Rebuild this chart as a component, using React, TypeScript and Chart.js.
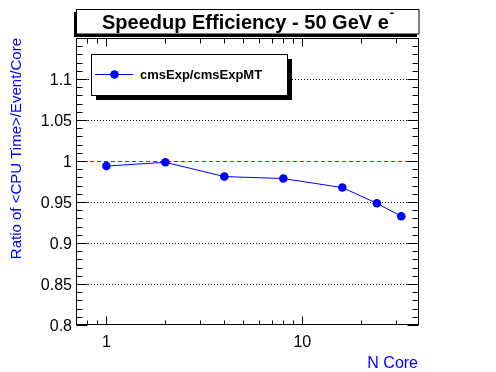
import React, { useEffect, useRef } from "react";
import { Chart, registerables } from "chart.js";

Chart.register(...registerables);

// ---- data ----
const nCores = [1, 2, 4, 8, 16, 24, 32];
const ratio = [0.9938, 0.9984, 0.981, 0.9786, 0.9676, 0.9484, 0.9326];

// ---- axis / tick definitions ----
const xMin = 0.7;
const xMax = 39.4;
const yMin = 0.8;
const yMax = 1.15;
const xMajorTicks = [1, 10];
const xMinorTicks = [0.7, 0.8, 0.9, 2, 3, 4, 5, 6, 7, 8, 9, 20, 30];
const yMajorTicks = [0.8, 0.85, 0.9, 0.95, 1, 1.05, 1.1, 1.15];
const yLabelTicks = [0.8, 0.85, 0.9, 0.95, 1, 1.05, 1.1];
const yMinorStep = 0.01;
const yDottedGrid = [0.85, 0.9, 0.95, 1.05, 1.1];
const yRefLine = 1;

const titleText = "Speedup Efficiency - 50 GeV e";
const titleSup = "-";
const legendLabel = "cmsExp/cmsExpMT";
const yTitle = "Ratio of <CPU Time>/Event/Core";
const xTitle = "N Core";

const FONT = "'Liberation Sans', Arial, Helvetica, sans-serif";
const BLUE = "#0000ff";

const fmtY = (v: number) => String(parseFloat(Number(v).toFixed(2)));

const rootPlugin = {
  id: "rootStyle",
  beforeDatasetsDraw(chart: any) {
    const { ctx, chartArea: a, scales } = chart;
    const y = scales.y;
    ctx.save();
    ctx.lineWidth = 1;
    ctx.strokeStyle = "#000";
    ctx.setLineDash([1, 2]);
    for (const v of yDottedGrid) {
      const py = Math.round(y.getPixelForValue(v)) + 0.5;
      ctx.beginPath();
      ctx.moveTo(a.left, py);
      ctx.lineTo(a.right, py);
      ctx.stroke();
    }
    ctx.strokeStyle = "#ff0000";
    ctx.setLineDash([4, 3]);
    const pr = Math.round(y.getPixelForValue(yRefLine)) + 0.5;
    ctx.beginPath();
    ctx.moveTo(a.left, pr);
    ctx.lineTo(a.right, pr);
    ctx.stroke();
    ctx.restore();
  },
  afterDatasetsDraw(chart: any) {
    const { ctx, chartArea: a, scales } = chart;
    const x = scales.x;
    const y = scales.y;
    const L = Math.round(a.left) + 0.5;
    const R = Math.round(a.right) - 0.5;
    const T = Math.round(a.top) + 0.5;
    const B = Math.round(a.bottom) - 0.5;
    ctx.save();
    ctx.setLineDash([]);
    ctx.strokeStyle = "#000";
    ctx.lineWidth = 1;
    // frame
    ctx.strokeRect(L, T, R - L, B - T);
    const line = (x1: number, y1: number, x2: number, y2: number) => {
      ctx.beginPath();
      ctx.moveTo(x1, y1);
      ctx.lineTo(x2, y2);
      ctx.stroke();
    };
    // y ticks
    const nMinor = Math.round((yMax - yMin) / yMinorStep);
    for (let i = 0; i <= nMinor; i++) {
      const v = yMin + i * yMinorStep;
      const major = yMajorTicks.some((m) => Math.abs(m - v) < 1e-6);
      const len = major ? 11 : 6;
      const py = Math.round(y.getPixelForValue(v)) + 0.5;
      line(L, py, L + len, py);
      line(R, py, R - len, py);
    }
    // y labels
    ctx.fillStyle = "#000";
    ctx.font = `16px ${FONT}`;
    ctx.textAlign = "right";
    ctx.textBaseline = "alphabetic";
    for (const v of yLabelTicks) {
      const py = y.getPixelForValue(v);
      ctx.fillText(fmtY(v), 72, py + 6);
    }
    // x ticks
    for (const v of xMajorTicks) {
      const px = Math.round(x.getPixelForValue(v)) + 0.5;
      line(px, B, px, B - 8);
      line(px, T, px, T + 8);
    }
    for (const v of xMinorTicks) {
      const px = Math.round(x.getPixelForValue(v)) + 0.5;
      line(px, B, px, B - 4);
      line(px, T, px, T + 5);
    }

    // title box with shadow
    ctx.fillStyle = "#000";
    ctx.fillRect(74, 12, 343, 25);
    ctx.fillStyle = "#fff";
    ctx.fillRect(77, 9, 342, 25);
    ctx.strokeRect(76.5, 9.5, 342.5, 24.5);
    ctx.fillStyle = "#000";
    ctx.font = `bold 20px ${FONT}`;
    ctx.textAlign = "left";
    ctx.textBaseline = "alphabetic";
    ctx.fillText(titleText, 102, 28.5);
    const tw = ctx.measureText(titleText).width;
    ctx.font = `bold 13px ${FONT}`;
    ctx.fillText(titleSup, 102 + tw + 1, 17);

    // legend box with shadow
    ctx.fillStyle = "#000";
    ctx.fillRect(96, 59, 196, 41);
    ctx.fillStyle = "#fff";
    ctx.fillRect(91, 54, 196, 41);
    ctx.strokeRect(91.5, 54.5, 196, 41);
    ctx.strokeStyle = BLUE;
    line(95, 74.5, 133, 74.5);
    ctx.fillStyle = BLUE;
    ctx.beginPath();
    ctx.arc(114.5, 74.5, 4.3, 0, Math.PI * 2);
    ctx.fill();
    ctx.fillStyle = "#000";
    ctx.font = `bold 13px ${FONT}`;
    ctx.textBaseline = "middle";
    ctx.fillText(legendLabel, 140, 75);

    // axis titles
    ctx.fillStyle = BLUE;
    ctx.font = `15px ${FONT}`;
    ctx.save();
    ctx.translate(17, 38);
    ctx.rotate(-Math.PI / 2);
    ctx.textAlign = "right";
    ctx.textBaseline = "middle";
    ctx.fillText(yTitle, 0, 0);
    ctx.restore();
    ctx.font = `16px ${FONT}`;
    ctx.textAlign = "right";
    ctx.textBaseline = "alphabetic";
    ctx.fillText(xTitle, 418, 368);
    ctx.restore();
  },
};

export default function App() {
  const ref = useRef<HTMLCanvasElement | null>(null);
  useEffect(() => {
    if (!ref.current) return;
    const chart = new Chart(ref.current, {
      type: "line",
      data: {
        labels: nCores,
        datasets: [
          {
            label: legendLabel,
            data: nCores.map((n, i) => ({ x: n, y: ratio[i] })),
            borderColor: BLUE,
            backgroundColor: BLUE,
            pointBackgroundColor: BLUE,
            pointBorderColor: BLUE,
            pointRadius: 4.3,
            pointBorderWidth: 0,
            borderWidth: 1,
            tension: 0,
            clip: false as any,
          },
        ],
      },
      options: {
        responsive: false,
        animation: false,
        devicePixelRatio: 1,
        layout: { padding: { left: 0, top: 38, right: 77, bottom: 0 } },
        plugins: { legend: { display: false }, tooltip: { enabled: false }, title: { display: false } },
        scales: {
          x: {
            type: "logarithmic",
            min: xMin,
            max: xMax,
            grid: { display: false, drawTicks: false },
            border: { display: false },
            afterBuildTicks: (s: any) => {
              s.ticks = xMajorTicks.map((v) => ({ value: v }));
            },
            afterFit: (s: any) => {
              s.height = 47;
            },
            ticks: {
              autoSkip: false,
              maxRotation: 0,
              padding: 8,
              color: "#000",
              font: { family: FONT, size: 16 },
              callback: (v: any) => String(v),
            },
          },
          y: {
            type: "linear",
            min: yMin,
            max: yMax,
            grid: { display: false, drawTicks: false },
            border: { display: false },
            afterBuildTicks: (s: any) => {
              s.ticks = yLabelTicks.map((v) => ({ value: v }));
            },
            afterFit: (s: any) => {
              s.width = 76;
            },
            ticks: { display: false },
          },
        },
      },
      plugins: [rootPlugin],
    });
    return () => chart.destroy();
  }, []);
  return (
    <div style={{ position: "fixed", left: 0, top: 0, width: 496, height: 372, background: "#fff" }}>
      <canvas ref={ref} width={496} height={372} style={{ display: "block", width: 496, height: 372 }} />
    </div>
  );
}
